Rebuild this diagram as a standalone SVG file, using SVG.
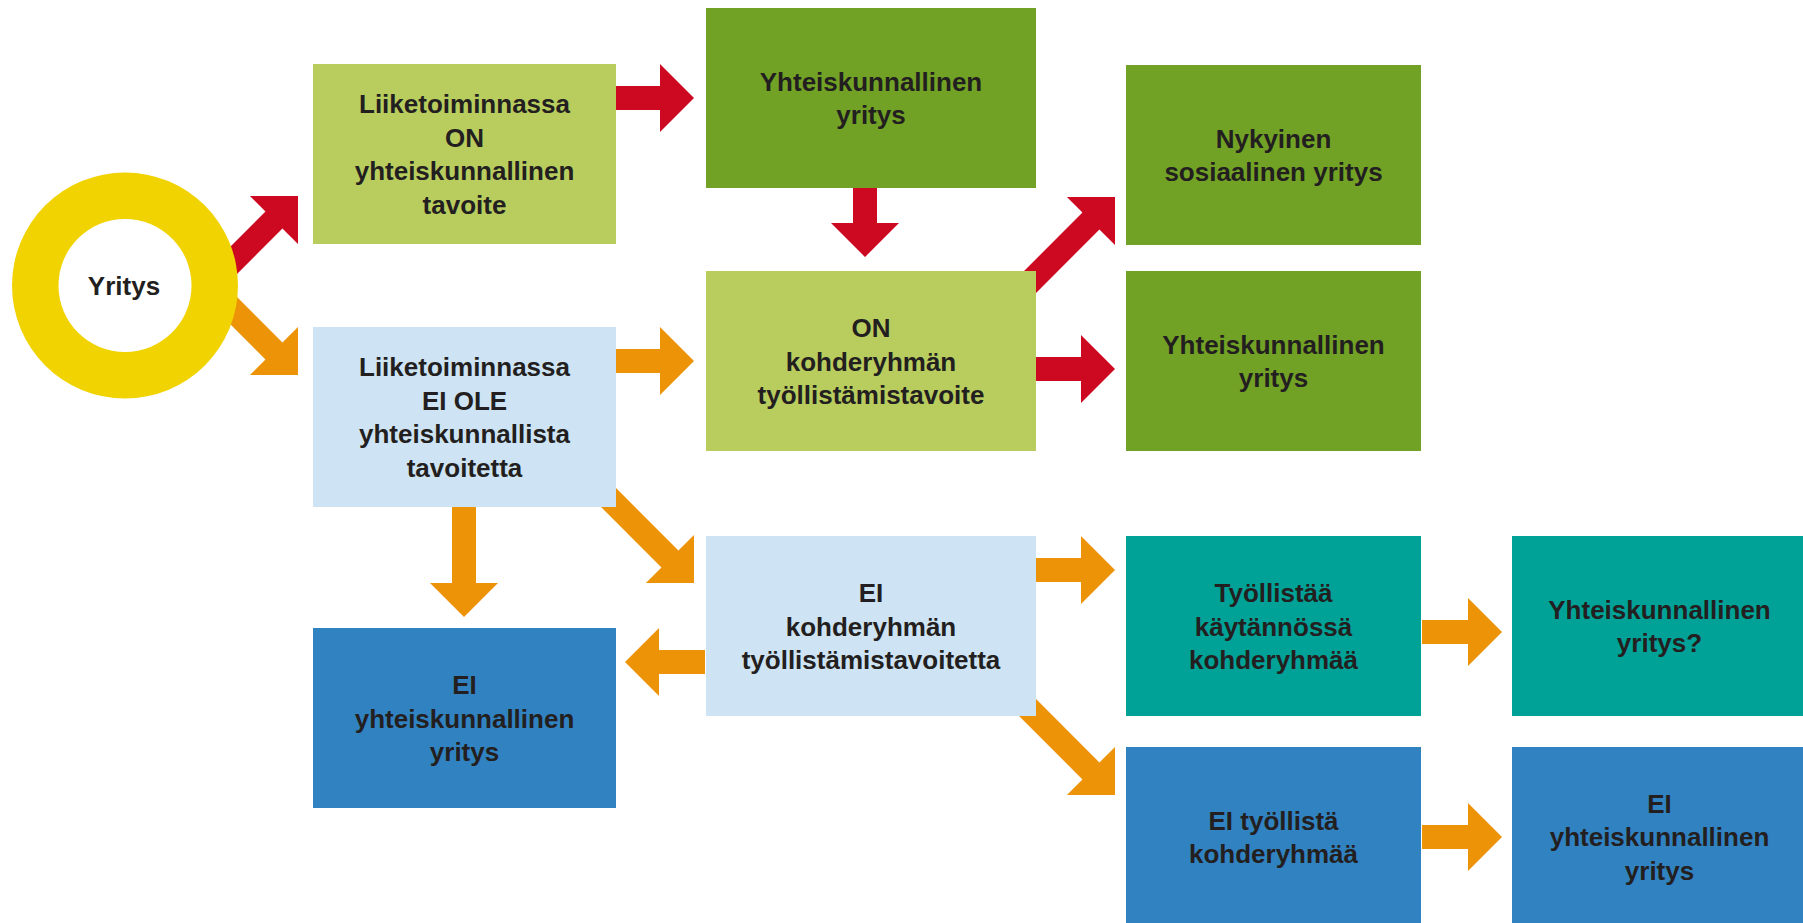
<svg xmlns="http://www.w3.org/2000/svg" width="1803" height="923" viewBox="0 0 1803 923">
<style>
.t{font-family:"Liberation Sans",Arial,sans-serif;font-weight:bold;font-size:26px;fill:#231F20;text-anchor:middle}
.lg{fill:#B9CD5E}.dg{fill:#72A225}.lb{fill:#CEE4F4}.bl{fill:#3182C1}.tl{fill:#00A297}
.red{fill:#CD0921}.org{fill:#EC9308}
</style>
<defs>
<path id="a78" d="M0,0 L-34,-34 L-34,-12 L-80,-12 L-80,12 L-34,12 L-34,34 Z"/>
<path id="a69" d="M0,0 L-34,-34 L-34,-12 L-70,-12 L-70,12 L-34,12 L-34,34 Z"/>
<path id="a110" d="M0,0 L-34,-34 L-34,-12 L-112,-12 L-112,12 L-34,12 L-34,34 Z"/>
<path id="a130" d="M0,0 L-34,-34 L-34,-12 L-130,-12 L-130,12 L-34,12 L-34,34 Z"/>
</defs>
<rect width="1803" height="923" fill="#FFFFFF"/>
<g id="connectors">
<use href="#a130" class="red" transform="translate(298,196) rotate(-45)"/>
<use href="#a78" class="red" transform="translate(694,98)"/>
<use href="#a69" class="red" transform="translate(865,257) rotate(90)"/>
<use href="#a130" class="red" transform="translate(1115,197) rotate(-45)"/>
<use href="#a78" class="red" transform="translate(1115,369)"/>
<use href="#a130" class="org" transform="translate(298,375) rotate(45)"/>
<use href="#a78" class="org" transform="translate(694,361)"/>
<use href="#a110" class="org" transform="translate(464,617) rotate(90)"/>
<use href="#a130" class="org" transform="translate(694,583) rotate(45)"/>
<use href="#a78" class="org" transform="translate(625,662) rotate(180)"/>
<use href="#a78" class="org" transform="translate(1115,570)"/>
<use href="#a130" class="org" transform="translate(1115,795) rotate(45)"/>
<use href="#a78" class="org" transform="translate(1502,632)"/>
<use href="#a78" class="org" transform="translate(1502,837)"/>
</g>
<g id="yritys">
<circle cx="125" cy="285.5" r="113" fill="#F1D302"/>
<circle cx="125" cy="285.5" r="66.5" fill="#FFFFFF"/>
<text class="t" x="124" y="294.5">Yritys</text>
</g>
<g id="b1">
<rect class="lg" x="313" y="64" width="303" height="180"/>
<text class="t" x="464.5" y="113">Liiketoiminnassa</text>
<text class="t" x="464.5" y="146.5">ON</text>
<text class="t" x="464.5" y="180">yhteiskunnallinen</text>
<text class="t" x="464.5" y="213.5">tavoite</text>
</g>
<g id="b2">
<rect class="lb" x="313" y="327" width="303" height="180"/>
<text class="t" x="464.5" y="376">Liiketoiminnassa</text>
<text class="t" x="464.5" y="409.5">EI OLE</text>
<text class="t" x="464.5" y="443">yhteiskunnallista</text>
<text class="t" x="464.5" y="476.5">tavoitetta</text>
</g>
<g id="b3">
<rect class="bl" x="313" y="628" width="303" height="180"/>
<text class="t" x="464.5" y="694">EI</text>
<text class="t" x="464.5" y="727.5">yhteiskunnallinen</text>
<text class="t" x="464.5" y="761">yritys</text>
</g>
<g id="c1">
<rect class="dg" x="706" y="8" width="330" height="180"/>
<text class="t" x="871" y="90.5">Yhteiskunnallinen</text>
<text class="t" x="871" y="124">yritys</text>
</g>
<g id="c2">
<rect class="lg" x="706" y="271" width="330" height="180"/>
<text class="t" x="871" y="337">ON</text>
<text class="t" x="871" y="370.5">kohderyhmän</text>
<text class="t" x="871" y="404">työllistämistavoite</text>
</g>
<g id="c3">
<rect class="lb" x="706" y="536" width="330" height="180"/>
<text class="t" x="871" y="602">EI</text>
<text class="t" x="871" y="635.5">kohderyhmän</text>
<text class="t" x="871" y="669">työllistämistavoitetta</text>
</g>
<g id="d1">
<rect class="dg" x="1126" y="65" width="295" height="180"/>
<text class="t" x="1273.5" y="147.5">Nykyinen</text>
<text class="t" x="1273.5" y="181">sosiaalinen yritys</text>
</g>
<g id="d2">
<rect class="dg" x="1126" y="271" width="295" height="180"/>
<text class="t" x="1273.5" y="353.5">Yhteiskunnallinen</text>
<text class="t" x="1273.5" y="387">yritys</text>
</g>
<g id="d3">
<rect class="tl" x="1126" y="536" width="295" height="180"/>
<text class="t" x="1273.5" y="602">Työllistää</text>
<text class="t" x="1273.5" y="635.5">käytännössä</text>
<text class="t" x="1273.5" y="669">kohderyhmää</text>
</g>
<g id="d4">
<rect class="bl" x="1126" y="747" width="295" height="180"/>
<text class="t" x="1273.5" y="829.5">EI työllistä</text>
<text class="t" x="1273.5" y="863">kohderyhmää</text>
</g>
<g id="e1">
<rect class="tl" x="1512" y="536" width="295" height="180"/>
<text class="t" x="1659.5" y="618.5">Yhteiskunnallinen</text>
<text class="t" x="1659.5" y="652">yritys?</text>
</g>
<g id="e2">
<rect class="bl" x="1512" y="747" width="295" height="180"/>
<text class="t" x="1659.5" y="812.5">EI</text>
<text class="t" x="1659.5" y="846">yhteiskunnallinen</text>
<text class="t" x="1659.5" y="879.5">yritys</text>
</g>
</svg>
